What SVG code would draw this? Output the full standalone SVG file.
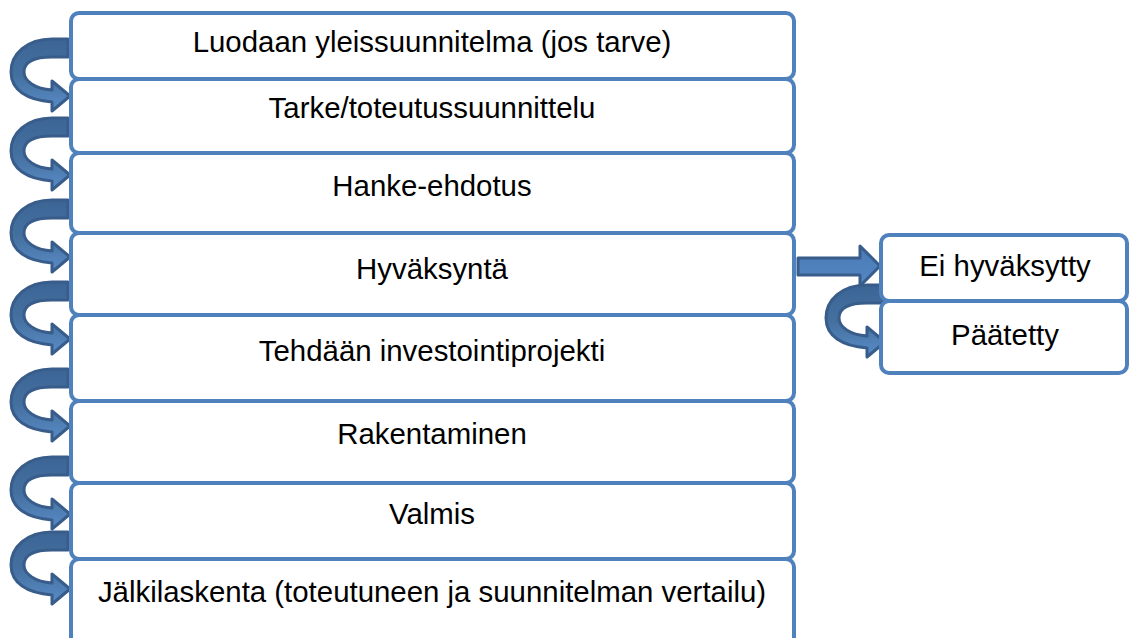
<svg xmlns="http://www.w3.org/2000/svg" width="1133" height="638" viewBox="0 0 1133 638">
<defs>
<style>
.box{fill:#fff;stroke:#4F81BD;stroke-width:4}
.t{font-family:"Liberation Sans",Arial,sans-serif;font-size:29.4px;fill:#000;text-anchor:middle}
.arr{fill:url(#g);stroke:#385D8A;stroke-width:3;stroke-linejoin:round}
</style>
<linearGradient id="g" x1="0" y1="0" x2="0" y2="1">
<stop offset="0" stop-color="#3C6596"/>
<stop offset="0.5" stop-color="#44709F"/>
<stop offset="1" stop-color="#5A8CC8"/>
</linearGradient>
<linearGradient id="gs" x1="0" y1="0" x2="0" y2="1">
<stop offset="0" stop-color="#4A7AB4"/>
<stop offset="1" stop-color="#5387C4"/>
</linearGradient>
<path id="ca" d="M68,-9 L52,-9 C27,-9 11,6 11,24 C11,42 27,52 52,54 L52,63 L70,48 L52,33 L52,42 C35,41 24,33 24,24 C24,14 34,9 52,9 L68,9 Z"/>
</defs>
<g id="connectors">
<use href="#ca" class="arr" transform="translate(0,48)"/>
<use href="#ca" class="arr" transform="translate(0,127)"/>
<use href="#ca" class="arr" transform="translate(0,209)"/>
<use href="#ca" class="arr" transform="translate(0,291)"/>
<use href="#ca" class="arr" transform="translate(0,378)"/>
<use href="#ca" class="arr" transform="translate(0,466)"/>
<use href="#ca" class="arr" transform="translate(0,541)"/>
<use href="#ca" class="arr" transform="translate(815,294)"/>
<path d="M798,258 L860,258 L860,246 L880,266 L860,286 L860,275 L798,275 Z" fill="url(#gs)" stroke="#385D8A" stroke-width="3" stroke-linejoin="round"/>
</g>
<g id="n1"><rect class="box" x="71" y="13" width="723" height="66" rx="8"/><text class="t" x="432" y="52">Luodaan yleissuunnitelma (jos tarve)</text></g>
<g id="n2"><rect class="box" x="71" y="79" width="723" height="74" rx="8"/><text class="t" x="432" y="118">Tarke/toteutussuunnittelu</text></g>
<g id="n3"><rect class="box" x="71" y="153" width="723" height="80" rx="8"/><text class="t" x="432" y="196">Hanke-ehdotus</text></g>
<g id="n4"><rect class="box" x="71" y="233" width="723" height="82" rx="8"/><text class="t" x="432" y="279">Hyväksyntä</text></g>
<g id="n5"><rect class="box" x="71" y="315" width="723" height="86" rx="8"/><text class="t" x="432" y="361">Tehdään investointiprojekti</text></g>
<g id="n6"><rect class="box" x="71" y="401" width="723" height="82" rx="8"/><text class="t" x="432" y="444">Rakentaminen</text></g>
<g id="n7"><rect class="box" x="71" y="483" width="723" height="76" rx="8"/><text class="t" x="432" y="524">Valmis</text></g>
<g id="n8"><rect class="box" x="71" y="559" width="723" height="90" rx="8"/><text class="t" x="432" y="602">Jälkilaskenta (toteutuneen ja suunnitelman vertailu)</text></g>
<g id="n9"><rect class="box" x="881" y="235" width="246" height="66" rx="8"/><text class="t" x="1005" y="276">Ei hyväksytty</text></g>
<g id="n10"><rect class="box" x="881" y="301" width="246" height="72" rx="8"/><text class="t" x="1005" y="345">Päätetty</text></g>
</svg>
